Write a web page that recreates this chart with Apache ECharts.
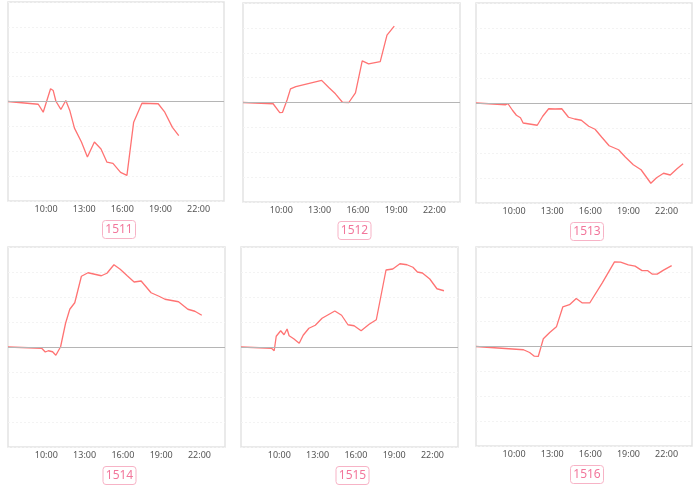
<!DOCTYPE html>
<html>
<head>
<meta charset="utf-8">
<script src="https://cdn.jsdelivr.net/npm/echarts@6/dist/echarts.min.js"></script>
<style>html,body{margin:0;padding:0;background:#fff}#c{width:700px;height:489px}</style>
</head>
<body>
<div id="c"></div>
<script>
const names = ['1511', '1512', '1513', '1514', '1515', '1516'];
const xTickLabels = ['10:00', '13:00', '16:00', '19:00', '22:00'];

const t1511 = [7.0, 9.38, 9.77, 10.35, 10.56, 10.77, 11.16, 11.55, 11.86, 12.23, 12.78, 13.25, 13.8, 14.32, 14.79, 15.26, 15.86, 16.36, 16.89, 17.54, 18.82, 19.34, 19.94, 20.44];
const v1511 = [0, -0.11, -0.43, 0.51, 0.44, 0.01, -0.32, 0.04, -0.36, -1.07, -1.63, -2.23, -1.63, -1.91, -2.44, -2.49, -2.85, -2.97, -0.83, -0.07, -0.09, -0.43, -1.04, -1.37];

const t1512 = [7.0, 9.36, 9.88, 10.09, 10.46, 10.72, 11.14, 13.16, 13.74, 14.24, 14.79, 15.29, 15.81, 16.34, 16.84, 17.75, 18.28, 18.85];
const v1512 = [0, -0.05, -0.41, -0.4, 0.11, 0.55, 0.64, 0.89, 0.59, 0.35, 0.01, 0, 0.39, 1.67, 1.55, 1.64, 2.71, 3.07];

const t1513 = [7.0, 9.34, 9.52, 9.87, 10.18, 10.5, 10.71, 11.82, 12.25, 12.72, 13.22, 13.75, 14.28, 14.76, 15.29, 15.87, 16.37, 16.9, 17.48, 18.22, 18.75, 19.38, 19.99, 20.76, 21.21, 21.76, 22.29, 22.82, 23.3];
const v1513 = [0, -0.07, -0.03, -0.29, -0.49, -0.59, -0.8, -0.89, -0.53, -0.23, -0.24, -0.23, -0.57, -0.64, -0.69, -0.93, -1.05, -1.37, -1.71, -1.87, -2.16, -2.47, -2.67, -3.21, -2.99, -2.81, -2.88, -2.63, -2.43];

const t1514 = [7.0, 9.64, 9.92, 10.16, 10.49, 10.75, 11.12, 11.51, 11.84, 12.23, 12.75, 13.27, 14.31, 14.75, 15.3, 15.79, 16.34, 16.88, 17.43, 18.21, 18.83, 19.3, 20.36, 21.09, 21.64, 22.18];
const v1514 = [0, -0.05, -0.2, -0.15, -0.19, -0.33, 0.01, 0.95, 1.51, 1.77, 2.83, 2.97, 2.85, 2.95, 3.29, 3.11, 2.85, 2.6, 2.64, 2.17, 2.03, 1.91, 1.81, 1.51, 1.43, 1.27];

const t1515 = [7.0, 9.39, 9.6, 9.76, 10.11, 10.37, 10.61, 10.77, 11.13, 11.56, 11.87, 12.32, 12.82, 13.35, 14.35, 14.88, 15.38, 15.86, 16.41, 17.04, 17.6, 18.36, 18.89, 19.45, 20.0, 20.47, 20.82, 21.21, 21.79, 22.35, 22.9];
const v1515 = [0, -0.05, -0.15, 0.43, 0.65, 0.49, 0.72, 0.45, 0.33, 0.15, 0.47, 0.75, 0.87, 1.15, 1.44, 1.27, 0.89, 0.85, 0.65, 0.91, 1.09, 3.08, 3.12, 3.33, 3.29, 3.19, 3.0, 2.96, 2.72, 2.33, 2.25];

const t1516 = [7.0, 10.74, 11.22, 11.59, 11.9, 12.3, 12.8, 13.33, 13.83, 14.36, 14.89, 15.37, 15.95, 16.95, 17.9, 18.38, 18.99, 19.52, 20.07, 20.52, 20.86, 21.26, 21.76, 22.4];
const v1516 = [0, -0.13, -0.24, -0.39, -0.4, 0.31, 0.56, 0.79, 1.59, 1.68, 1.93, 1.75, 1.75, 2.57, 3.4, 3.39, 3.28, 3.23, 3.05, 3.05, 2.91, 2.91, 3.07, 3.25];

const times = [t1511, t1512, t1513, t1514, t1515, t1516];
const values = [v1511, v1512, v1513, v1514, v1515, v1516];

// layout of each panel box (left, top, right, bottom)
const boxes = [
  [8, 2, 224, 201],
  [243, 3, 460, 202],
  [476, 3, 692, 203],
  [8, 247, 225, 447],
  [241, 247, 458, 447],
  [476, 247, 692, 446]
];

const grids = [], xAxes = [], yAxes = [], series = [], titles = [];
boxes.forEach((b, i) => {
  grids.push({
    left: b[0], top: b[1], width: b[2] - b[0], height: b[3] - b[1],
    show: true, borderColor: '#e3e3e3', borderWidth: 1.5, backgroundColor: '#fff'
  });
  xAxes.push({
    type: 'value', gridIndex: i, min: 7, max: 24, interval: 1,
    axisLine: { show: false }, axisTick: { show: false }, splitLine: { show: false },
    axisLabel: {
      margin: 4, fontSize: 9, color: '#555', fontFamily: 'Noto Sans',
      formatter: function (v) {
        const s = (v < 10 ? '0' : '') + v + ':00';
        return xTickLabels.indexOf(s) >= 0 ? s : '';
      }
    }
  });
  yAxes.push({
    type: 'value', gridIndex: i, min: -4, max: 4, interval: 1,
    axisLine: { show: false }, axisTick: { show: false }, axisLabel: { show: false },
    splitLine: { show: true, lineStyle: { color: '#f3f3f3', type: [2, 2], width: 1 } }
  });
  series.push({
    type: 'line', xAxisIndex: i, yAxisIndex: i, symbol: 'none',
    data: times[i].map((t, k) => [t, values[i][k]]),
    lineStyle: { color: '#ff7373', width: 1.3 },
    markLine: {
      silent: true, symbol: 'none', label: { show: false },
      lineStyle: { color: '#b5b5b5', type: 'solid', width: 1 },
      data: [{ yAxis: 0 }]
    },
    z: 3
  });
  const cx = (b[0] + b[2]) / 2;
  titles.push({
    text: names[i], left: cx, top: b[3] + 19, textAlign: 'center',
    textStyle: { fontSize: 12, fontWeight: 'normal', color: '#f2769b', fontFamily: 'Noto Sans', lineHeight: 13 },
    borderColor: '#f7b3c6', borderWidth: 1, borderRadius: 3,
    padding: [3, 3, 3, 3]
  });
});

const chart = echarts.init(document.getElementById('c'), null, { renderer: 'canvas' });
chart.setOption({
  animation: false,
  title: titles,
  grid: grids,
  xAxis: xAxes,
  yAxis: yAxes,
  series: series
});
</script>
</body>
</html>
